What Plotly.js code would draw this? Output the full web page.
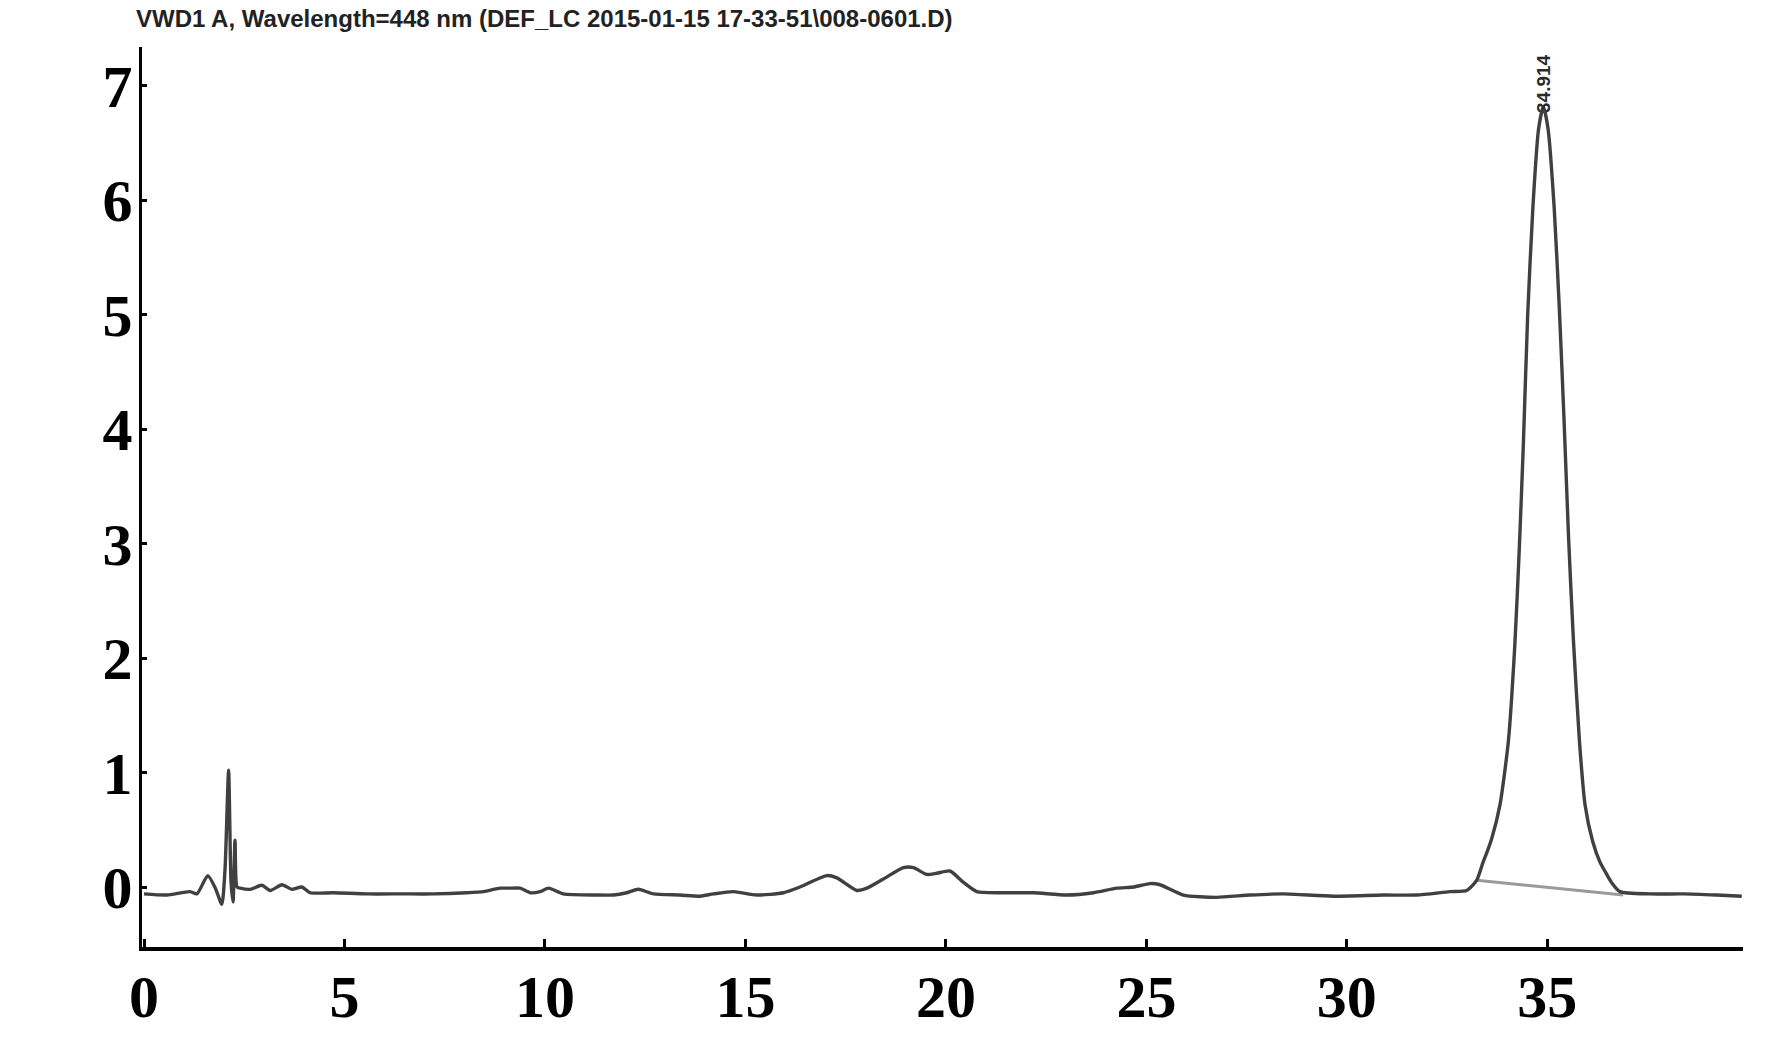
<!DOCTYPE html>
<html>
<head>
<meta charset="utf-8">
<script src="https://cdn.plot.ly/plotly-3.0.1.min.js"></script>
<style>html,body{margin:0;padding:0;background:#fff;}#chart{width:1772px;height:1037px;}</style>
</head>
<body>
<div id="chart"></div>
<script>
// Retention time (min) and detector signal
const timeMin = [0.0,0.57,1.15,1.32,1.59,1.78,1.94,2.02,2.11,2.17,2.22,2.27,2.32,2.40,2.65,2.94,3.15,3.44,3.69,3.94,4.14,4.73,5.56,6.39,7.22,8.05,8.47,8.88,9.13,9.38,9.63,9.88,10.09,10.46,11.29,11.71,12.04,12.33,12.71,13.37,13.87,14.20,14.70,15.28,15.95,16.36,17.03,17.28,17.78,18.03,18.44,18.94,19.19,19.52,19.77,20.10,20.44,20.77,21.35,22.18,23.01,23.68,24.26,24.68,25.09,25.34,25.92,26.75,27.59,28.42,29.66,30.91,31.74,32.57,32.99,33.24,33.40,33.50,33.61,33.82,34.03,34.19,34.30,34.40,34.51,34.64,34.78,34.90,35.02,35.17,35.30,35.42,35.53,35.65,35.80,35.94,36.13,36.31,36.45,36.60,36.81,37.56,38.39,39.22,39.85];
const signal = [-0.06,-0.07,-0.04,-0.06,0.10,-0.01,-0.15,0.15,1.02,0.05,-0.13,0.41,0.0,-0.01,-0.02,0.015,-0.03,0.02,-0.02,0.0,-0.05,-0.05,-0.06,-0.06,-0.06,-0.05,-0.04,-0.01,-0.01,-0.01,-0.05,-0.04,-0.01,-0.06,-0.07,-0.07,-0.05,-0.02,-0.06,-0.07,-0.08,-0.06,-0.04,-0.07,-0.05,0.0,0.10,0.08,-0.03,-0.01,0.07,0.17,0.17,0.11,0.12,0.14,0.04,-0.04,-0.05,-0.05,-0.07,-0.05,-0.01,0.0,0.03,0.02,-0.07,-0.09,-0.07,-0.06,-0.08,-0.07,-0.07,-0.04,-0.03,0.06,0.22,0.31,0.42,0.72,1.28,2.12,2.95,3.85,5.00,5.94,6.62,6.82,6.62,5.94,5.05,4.05,3.05,2.16,1.28,0.72,0.40,0.22,0.13,0.04,-0.04,-0.06,-0.06,-0.07,-0.08];
// Integration baseline under the main peak
const baselineX = [33.24, 36.89];
const baselineY = [0.06, -0.07];
// Peak label
const peakTime = 34.90;
const peakLabel = "34.914";
const peakLabelY = 7.02;
// Ticks
const xTicks = [0,5,10,15,20,25,30,35];
const yTicks = [0,1,2,3,4,5,6,7];
const titleText = "VWD1 A, Wavelength=448 nm (DEF_LC 2015-01-15 17-33-51\\008-0601.D)";

const traces = [
  {x: baselineX, y: baselineY, mode: 'lines', line: {color: '#9a9a9a', width: 3}, hoverinfo: 'skip'},
  {x: timeMin, y: signal, mode: 'lines', line: {color: '#404040', width: 3.4, shape: 'spline', smoothing: 0.6}}
];

const tickFont = {family: '"Liberation Serif", "Times New Roman", serif', size: 60, color: '#000', weight: 'bold'};

const layout = {
  width: 1772, height: 1037,
  margin: {l: 142, r: 29, t: 47, b: 90, pad: 0},
  paper_bgcolor: '#fff', plot_bgcolor: '#fff',
  showlegend: false,
  title: {
    text: titleText,
    font: {family: '"Liberation Sans", Arial, sans-serif', size: 24, color: '#222', weight: 'bold'},
    x: 136/1772, xanchor: 'left', xref: 'container',
    y: 1 - 19/1037, yanchor: 'middle', yref: 'container'
  },
  xaxis: {
    range: [-0.05, 39.88], tickvals: xTicks, ticktext: xTicks.map(String),
    showgrid: false, zeroline: false, showline: true, linecolor: '#000', linewidth: 3.5,
    ticks: 'inside', ticklen: 8, tickwidth: 3, tickcolor: '#000',
    tickfont: tickFont, ticklabelstandoff: -6
  },
  yaxis: {
    range: [-0.524, 7.34], tickvals: yTicks, ticktext: yTicks.map(String),
    showgrid: false, zeroline: false, showline: true, linecolor: '#000', linewidth: 3.5,
    ticks: 'inside', ticklen: 5, tickwidth: 3, tickcolor: '#000',
    tickfont: tickFont, ticklabelstandoff: -6
  },
  annotations: [{
    x: peakTime, y: peakLabelY, xref: 'x', yref: 'y', text: peakLabel,
    showarrow: false, textangle: -90, xanchor: 'center', yanchor: 'middle',
    font: {family: '"Liberation Sans", Arial, sans-serif', size: 19, color: '#2a2a2a', weight: 'bold'}
  }]
};

Plotly.newPlot('chart', traces, layout, {displayModeBar: false, staticPlot: true});
</script>
</body>
</html>
